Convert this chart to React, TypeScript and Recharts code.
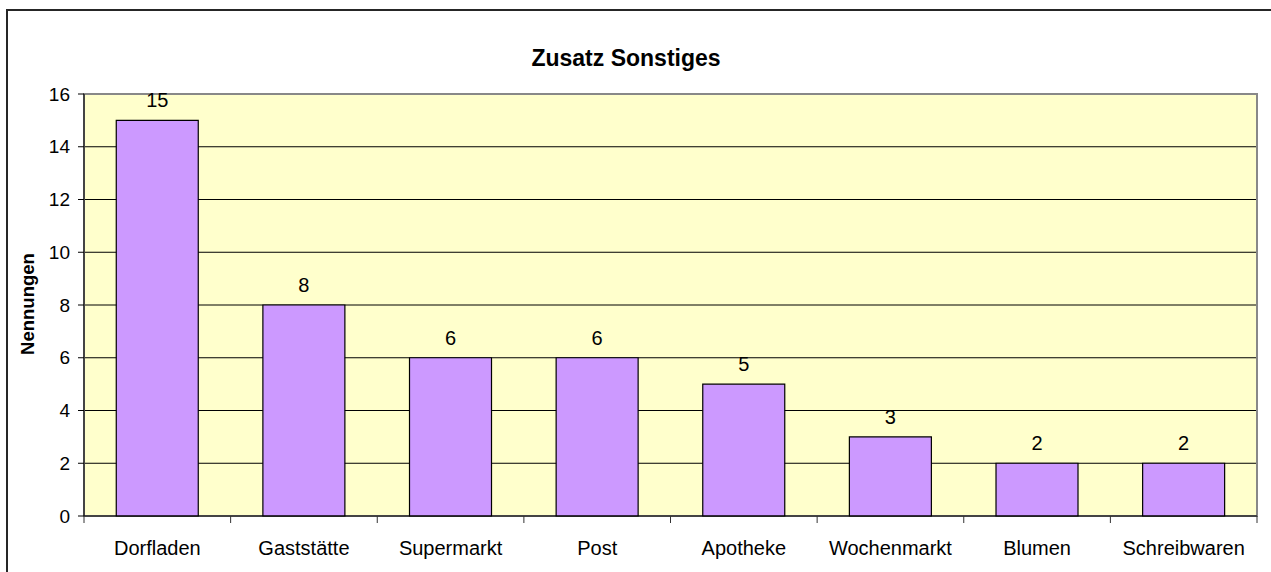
import { BarChart, Bar, XAxis, YAxis, CartesianGrid, LabelList, ReferenceArea } from 'recharts';

const categories = ['Dorfladen', 'Gaststätte', 'Supermarkt', 'Post', 'Apotheke', 'Wochenmarkt', 'Blumen', 'Schreibwaren'];
const nennungen = [15, 8, 6, 6, 5, 3, 2, 2];
const yTicks = [0, 2, 4, 6, 8, 10, 12, 14, 16];

const data = categories.map((name, i) => ({ name, value: nennungen[i] }));

const W = 1271;
const H = 572;
const margin = { top: 94, right: 14, bottom: 26, left: 24 };
const yAxisWidth = 60;
const plotWidth = W - margin.left - margin.right - yAxisWidth;
const halfBand = plotWidth / categories.length / 2;
const font = '"Liberation Sans", Arial, sans-serif';

const XTick = (props: any) => {
  const { x, y, payload, index } = props;
  return (
    <g>
      <line x1={x - halfBand} x2={x - halfBand} y1={y} y2={y + 7} stroke="#333" />
      {index === categories.length - 1 && (
        <line x1={x + halfBand} x2={x + halfBand} y1={y} y2={y + 7} stroke="#333" />
      )}
      <text x={x} y={y + 39} textAnchor="middle" fontSize={20} fill="#000" fontFamily={font}>
        {payload.value}
      </text>
    </g>
  );
};

const TopLabel = (props: any) => {
  const { x, y, width, value } = props;
  return (
    <text x={x + width / 2} y={y - 13} textAnchor="middle" fontSize={20} fill="#000" fontFamily={font}>
      {value}
    </text>
  );
};

export default function App() {
  return (
    <div style={{ position: 'absolute', left: 0, top: 0, width: W, height: H, overflow: 'hidden', background: '#fff', fontFamily: font }}>
      <div style={{ position: 'absolute', left: 6, top: 9, width: 1400, height: 700, border: '2px solid #262626' }} />
      <div style={{ position: 'absolute', left: 0, top: 0 }}>
        <BarChart width={W} height={H} data={data} margin={margin} barCategoryGap="22%">
          <CartesianGrid vertical={false} stroke="#000" fill="#FFFFCC" fillOpacity={1} />
          <ReferenceArea y1={0} y2={16} fill="none" stroke="#888" strokeWidth={2} ifOverflow="visible" />
          <XAxis dataKey="name" stroke="#000" tickLine={false} tickSize={0} tickMargin={0} height={30} tick={<XTick />} interval={0} />
          <YAxis
            domain={[0, 16]}
            ticks={yTicks}
            width={yAxisWidth}
            stroke="#000"
            tickSize={6}
            tickMargin={8}
            tick={{ fill: '#000', fontSize: 19, fontFamily: font }}
            interval={0}
          />
          <Bar dataKey="value" fill="#CC99FF" stroke="#000" strokeWidth={1.2} isAnimationActive={false}>
            <LabelList dataKey="value" content={<TopLabel />} />
          </Bar>
        </BarChart>
      </div>
      <div style={{ position: 'absolute', left: 426, top: 47, width: 400, textAlign: 'center', fontSize: 23, lineHeight: '23px', fontWeight: 'bold', color: '#000' }}>
        Zusatz Sonstiges
      </div>
      <div style={{ position: 'absolute', left: 28, top: 304, transform: 'translate(-50%, -50%) rotate(-90deg)', whiteSpace: 'nowrap', fontSize: 18.5, lineHeight: '18px', fontWeight: 'bold', color: '#000' }}>
        Nennungen
      </div>
    </div>
  );
}
